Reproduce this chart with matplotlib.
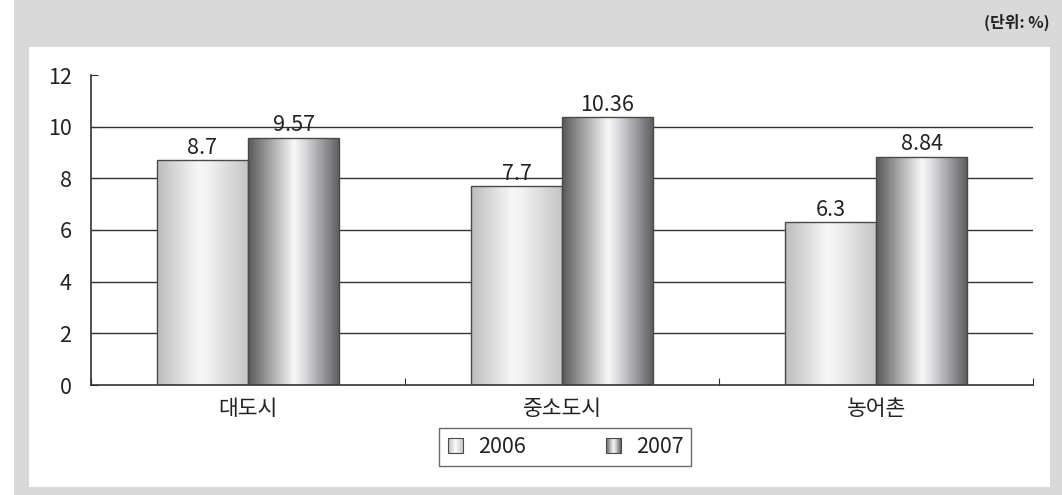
import numpy as np
import matplotlib
matplotlib.use("Agg")
import matplotlib.pyplot as plt
from matplotlib.patches import Rectangle
from matplotlib.colors import LinearSegmentedColormap
from matplotlib.legend_handler import HandlerBase

plt.rcParams['font.family'] = ['Noto Sans CJK KR', 'DejaVu Sans']

categories = ['대도시', '중소도시', '농어촌']
series_names = ['2006', '2007']
values_2006 = [8.7, 7.7, 6.3]
values_2007 = [9.57, 10.36, 8.84]
label_2006 = ['8.7', '7.7', '6.3']
label_2007 = ['9.57', '10.36', '8.84']
y_ticks = [0, 2, 4, 6, 8, 10, 12]
unit_text = '(단위: %)'

FS = 15.5

cmap06 = LinearSegmentedColormap.from_list('g06', [(0, '#bdbdbf'), (0.45, '#f7f7f7'), (0.55, '#f2f2f2'), (1, '#c4c4c6')])
cmap07 = LinearSegmentedColormap.from_list('g07', [(0, '#58585a'), (0.5, '#f8f8f8'), (0.6, '#e0e0e2'), (1, '#5c5c5e')])

fig = plt.figure(figsize=(10.62, 4.95), dpi=100)
fig.patch.set_facecolor('white')
fig.patches.append(Rectangle((14/1062, 0), 1 - 14/1062, 1, transform=fig.transFigure,
                             facecolor='#d9d9d9', edgecolor='none', zorder=-2))
fig.patches.append(Rectangle((29/1062, 8/495), (1050-29)/1062, (487-47)/495,
                             transform=fig.transFigure, facecolor='white', edgecolor='none', zorder=-1))

ax = fig.add_axes([91/1062, 1 - 385/495, (1033-91)/1062, (385-75)/495])
ax.set_facecolor('none')
x = np.arange(len(categories))
w = 0.29

grad = np.linspace(0, 1, 256).reshape(1, -1)

def draw_bars(xpos, vals, cmap, labels):
    bars = ax.bar(xpos, vals, w, facecolor='none', edgecolor='#4a4a4a', linewidth=1.0, zorder=3)
    for b, lab in zip(bars, labels):
        x0, y0 = b.get_x(), b.get_y()
        im = ax.imshow(grad, cmap=cmap, aspect='auto', extent=[x0, x0 + b.get_width(), y0, y0 + b.get_height()],
                       zorder=2, interpolation='bilinear')
        im.set_clip_path(b)
        ax.annotate(lab, (x0 + b.get_width()/2, b.get_height()), xytext=(0, 1), textcoords='offset points',
                    ha='center', va='bottom', fontsize=FS, color='#222222', zorder=4)
    return bars

draw_bars(x - w/2, values_2006, cmap06, label_2006)
draw_bars(x + w/2, values_2007, cmap07, label_2007)

ax.set_xlim(-0.5, 2.5)
ax.set_ylim(0, 12)
ax.set_yticks(y_ticks)
ax.set_yticklabels([str(t) for t in y_ticks], fontsize=FS, color='#222222')
for t in y_ticks[1:-1]:
    ax.axhline(t, color='#333333', linewidth=1.0, zorder=1)
ax.tick_params(axis='y', direction='in', length=5, pad=14, color='#333333')
ax.set_xticks([-0.5, 0.5, 1.5, 2.5])
ax.set_xticklabels([])
ax.tick_params(axis='x', direction='in', length=5, color='#333333')
for xi, c in zip(x, categories):
    ax.text(xi, -0.5, c, ha='center', va='top', fontsize=FS, color='#222222', transform=ax.transData)
for s in ['top', 'right']:
    ax.spines[s].set_visible(False)
for s in ['left', 'bottom']:
    ax.spines[s].set_color('#333333')
    ax.spines[s].set_linewidth(1.2)


class GradHandler(HandlerBase):
    def __init__(self, cmap):
        super().__init__()
        self.cmap = cmap

    def create_artists(self, legend, orig_handle, xdescent, ydescent, width, height, fontsize, trans):
        arts = []
        n = 20
        sz = height * 1.0
        x0 = xdescent + (width - sz) / 2
        y0 = -ydescent
        for i in range(n):
            r = Rectangle((x0 + i * sz / n, y0), sz / n + 0.05, sz, facecolor=self.cmap((i + 0.5) / n),
                          edgecolor='none', transform=trans)
            arts.append(r)
        arts.append(Rectangle((x0, y0), sz, sz, facecolor='none', edgecolor='#4a4a4a', linewidth=0.8, transform=trans))
        return arts

h06 = Rectangle((0, 0), 1, 1)
h07 = Rectangle((0, 1), 1, 1)
leg = fig.legend([h06, h07], series_names, handler_map={h06: GradHandler(cmap06), h07: GradHandler(cmap07)},
                 loc='center', bbox_to_anchor=(565/1062, 1 - 447/495), ncol=2, fontsize=FS, frameon=True,
                 fancybox=False, edgecolor='#444444', handlelength=0.9, handleheight=0.7, columnspacing=3.6,
                 handletextpad=0.6, borderpad=0.35, borderaxespad=0)
leg.get_frame().set_linewidth(1.0)
for t in leg.get_texts():
    t.set_color('#222222')

fig.text(1050/1062, 1 - 22/495, unit_text, ha='right', va='center', fontsize=11.5, fontweight='bold', color='#222222')

fig.savefig('out.png', dpi=100, facecolor=fig.get_facecolor())
